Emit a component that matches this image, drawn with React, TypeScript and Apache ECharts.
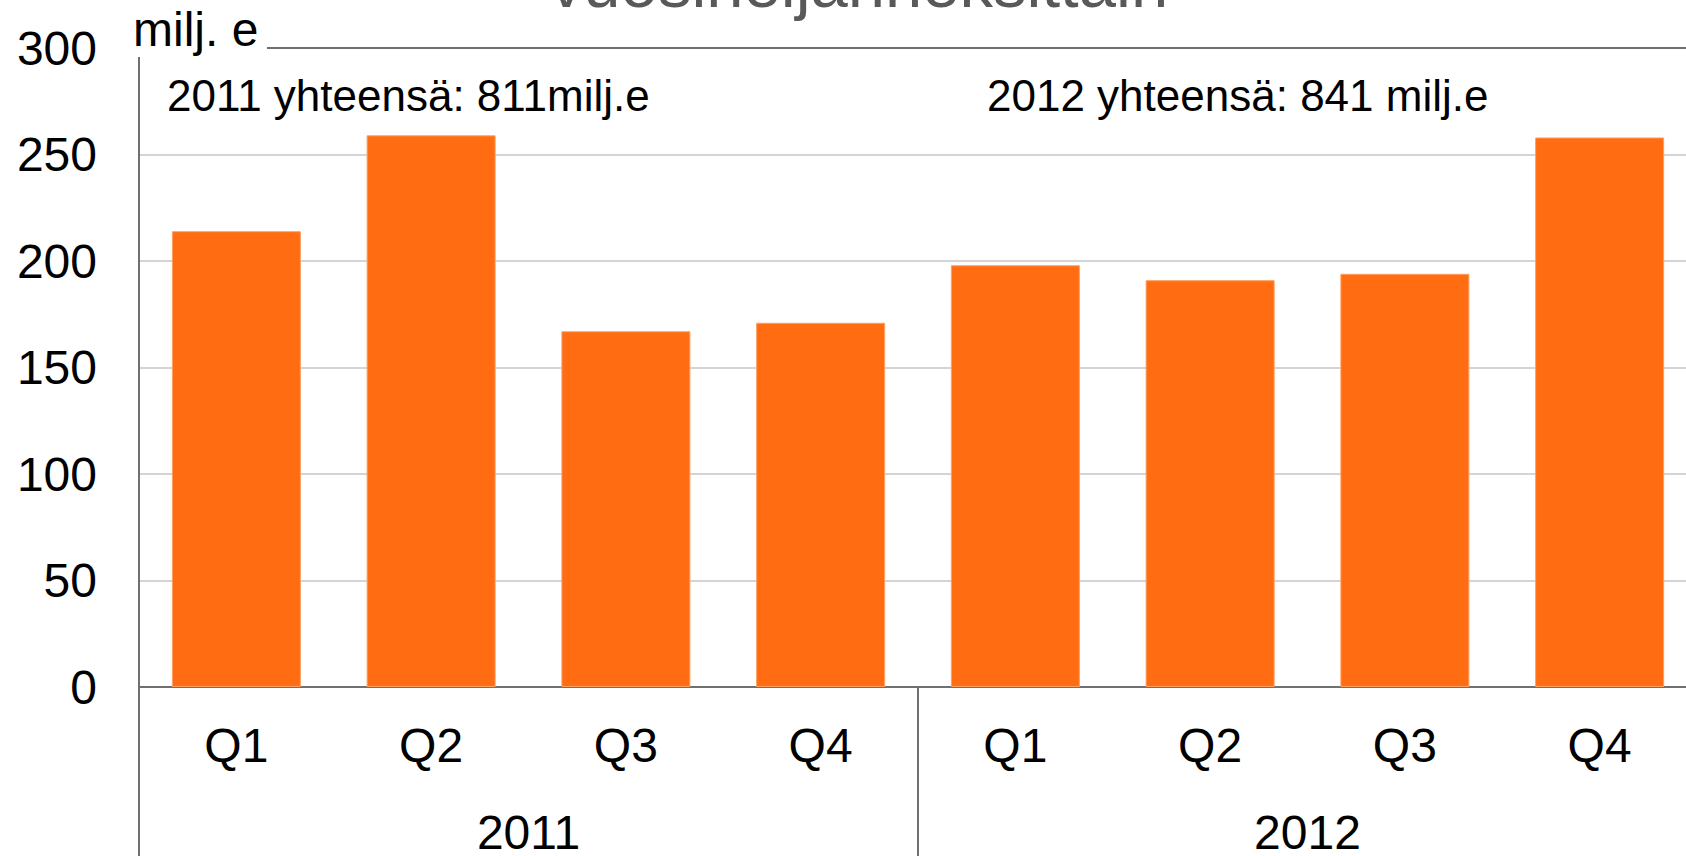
import React, { useEffect, useRef } from "react";
import * as echarts from "echarts";

const quarters = ["Q1", "Q2", "Q3", "Q4", "Q1", "Q2", "Q3", "Q4"];
const years = ["2011", "2012"];
const values = [214, 259, 167, 171, 198, 191, 194, 258];
const yMin = 0;
const yMax = 300;
const yInterval = 50;
const titleText = "vuosineljänneksittäin";
const unitText = "milj. e";
const annotations = ["2011 yhteensä: 811milj.e", "2012 yhteensä: 841 milj.e"];

const FONT = '"Liberation Sans", Arial, sans-serif';

export default function App() {
  const ref = useRef<HTMLDivElement>(null);
  useEffect(() => {
    if (!ref.current) return;
    const chart = echarts.init(ref.current, null, { renderer: "svg" });
    const option: any = {
      animation: false,
      backgroundColor: "#ffffff",
      textStyle: { fontFamily: FONT },
      grid: { left: 139, top: 48, bottom: 168, right: 3, containLabel: false },
      xAxis: [
        {
          type: "category",
          data: quarters,
          position: "bottom",
          boundaryGap: true,
          axisLine: { show: true, lineStyle: { color: "#707070", width: 2 } },
          axisTick: { show: false },
          axisLabel: { fontSize: 48, color: "#000", margin: 34, fontFamily: FONT, interval: 0 },
        },
        {
          type: "category",
          data: years,
          position: "bottom",
          boundaryGap: true,
          axisLine: { show: false },
          axisTick: { show: true, length: 172, lineStyle: { color: "#707070", width: 2 } },
          axisLabel: { fontSize: 48, color: "#000", margin: 121, fontFamily: FONT, interval: 0 },
        },
      ],
      yAxis: {
        type: "value",
        min: yMin,
        max: yMax,
        interval: yInterval,
        axisLine: { show: false },
        axisTick: { show: false },
        axisLabel: { fontSize: 48, color: "#000", margin: 42, fontFamily: FONT },
        splitLine: { show: true, showMaxLine: false, lineStyle: { color: "#d4d4d4", width: 2 } },
      },
      series: [
        {
          type: "bar",
          data: values,
          xAxisIndex: 0,
          barWidth: 129,
          itemStyle: { color: "#FF6C12", borderColor: "#FFA061", borderWidth: 1 },
        },
      ],
      graphic: [
        {
          type: "line",
          shape: { x1: 139, y1: 57, x2: 139, y2: 688 },
          style: { stroke: "#707070", lineWidth: 2 },
          z: 10,
        },
        {
          type: "line",
          shape: { x1: 267, y1: 48, x2: 1700, y2: 48 },
          style: { stroke: "#707070", lineWidth: 2 },
          z: 10,
        },
        {
          type: "text",
          x: 859,
          y: -17,
          style: {
            text: titleText,
            fill: "#595959",
            font: `67px ${FONT}`,
            textAlign: "center",
            textVerticalAlign: "middle",
          },
        },
        {
          type: "text",
          x: 133,
          y: 29,
          style: {
            text: unitText,
            fill: "#000",
            font: `48px ${FONT}`,
            textAlign: "left",
            textVerticalAlign: "middle",
          },
        },
        {
          type: "text",
          x: 167,
          y: 95,
          style: {
            text: annotations[0],
            fill: "#000",
            font: `44px ${FONT}`,
            textAlign: "left",
            textVerticalAlign: "middle",
          },
        },
        {
          type: "text",
          x: 987,
          y: 95,
          style: {
            text: annotations[1],
            fill: "#000",
            font: `44px ${FONT}`,
            textAlign: "left",
            textVerticalAlign: "middle",
          },
        },
      ],
    };
    chart.setOption(option);
    return () => chart.dispose();
  }, []);
  return (
    <div
      style={{ position: "fixed", left: 0, top: 0, width: 1686, height: 856, overflow: "hidden" }}
    >
      <div ref={ref} style={{ position: "absolute", left: 0, top: 0, width: 1700, height: 856 }} />
    </div>
  );
}
